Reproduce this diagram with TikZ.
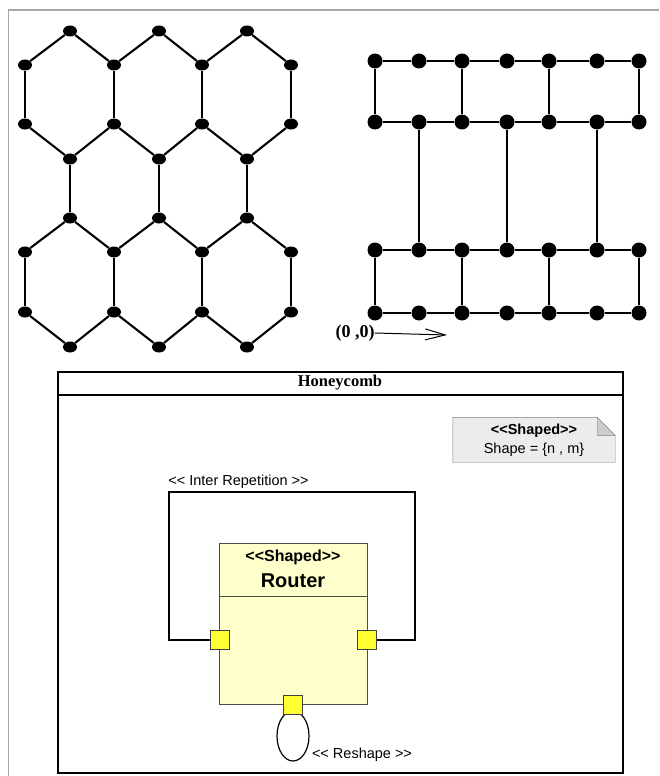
\documentclass[tikz,border=0pt]{standalone}
\usepackage{fontspec}
\newfontfamily\umlfont{Liberation Sans}
\newfontfamily\timesfont{Liberation Serif}
\usetikzlibrary{shapes.geometric, backgrounds, arrows.meta, positioning}
\definecolor{routerfill}{RGB}{255,255,204}
\definecolor{portfill}{RGB}{255,255,51}
\definecolor{notefill}{RGB}{236,236,236}
\definecolor{notedraw}{RGB}{128,128,128}
\tikzset{
  hex node/.style={
    ellipse,
    fill=black,
    inner sep=0pt,
    minimum width=14pt,
    minimum height=11pt,
  },
  brick node/.style={
    circle,
    fill=black,
    inner sep=0pt,
    minimum size=15pt,
  },
  lattice edge/.style={line width=2.1pt},
  port node/.style={
    draw=black!75,
    fill=portfill,
    inner sep=0pt,
    minimum size=19pt,
  },
  uml text/.style={font=\umlfont\fontsize{14.5}{17}\selectfont},
}

\begin{document}
\begin{tikzpicture}[x=1pt, y=-1pt]
      \useasboundingbox (0,0) rectangle (659,776);
      \draw[gray!70, line width=1.5pt] (8.5,776) -- (8.5,10) -- (659,10);

      % honeycomb
      \node[hex node] (t1) at (70,31)  {}; \node[hex node] (t2) at (159,31)  {}; \node[hex node] (t3) at (247,31)  {};
      \node[hex node] (a1) at (25,65)  {}; \node[hex node] (a2) at (114,65)  {}; \node[hex node] (a3) at (202,65)  {}; \node[hex node] (a4) at (291,65)  {};
      \node[hex node] (b1) at (25,124) {}; \node[hex node] (b2) at (114,124) {}; \node[hex node] (b3) at (202,124) {}; \node[hex node] (b4) at (291,124) {};
      \node[hex node] (c1) at (70,159) {}; \node[hex node] (c2) at (159,159) {}; \node[hex node] (c3) at (247,159) {};
      \node[hex node] (d1) at (70,218) {}; \node[hex node] (d2) at (159,218) {}; \node[hex node] (d3) at (247,218) {};
      \node[hex node] (e1) at (25,252) {}; \node[hex node] (e2) at (114,252) {}; \node[hex node] (e3) at (202,252) {}; \node[hex node] (e4) at (291,252) {};
      \node[hex node] (f1) at (25,312) {}; \node[hex node] (f2) at (114,312) {}; \node[hex node] (f3) at (202,312) {}; \node[hex node] (f4) at (291,312) {};
      \node[hex node] (g1) at (70,347) {}; \node[hex node] (g2) at (159,347) {}; \node[hex node] (g3) at (247,347) {};

      \draw[lattice edge] (a1) -- (t1) -- (a2) -- (t2) -- (a3) -- (t3) -- (a4);
      \draw[lattice edge] (a1) -- (b1);  \draw[lattice edge] (a2) -- (b2);
      \draw[lattice edge] (a3) -- (b3);  \draw[lattice edge] (a4) -- (b4);
      \draw[lattice edge] (b1) -- (c1) -- (b2) -- (c2) -- (b3) -- (c3) -- (b4);
      \draw[lattice edge] (c1) -- (d1);  \draw[lattice edge] (c2) -- (d2);  \draw[lattice edge] (c3) -- (d3);
      \draw[lattice edge] (e1) -- (d1) -- (e2) -- (d2) -- (e3) -- (d3) -- (e4);
      \draw[lattice edge] (e1) -- (f1);  \draw[lattice edge] (e2) -- (f2);
      \draw[lattice edge] (e3) -- (f3);  \draw[lattice edge] (e4) -- (f4);
      \draw[lattice edge] (f1) -- (g1) -- (f2) -- (g2) -- (f3) -- (g3) -- (f4);

      % brick grid
      \node[brick node] (p1) at (375,61)  {}; \node[brick node] (p2) at (419,61)  {}; \node[brick node] (p3) at (462,61)  {}; \node[brick node] (p4) at (507,61)  {};
      \node[brick node] (p5) at (549,61)  {}; \node[brick node] (p6) at (597,61)  {}; \node[brick node] (p7) at (639,61)  {};
      \node[brick node] (q1) at (375,122) {}; \node[brick node] (q2) at (419,122) {}; \node[brick node] (q3) at (462,122) {}; \node[brick node] (q4) at (507,122) {};
      \node[brick node] (q5) at (549,122) {}; \node[brick node] (q6) at (597,122) {}; \node[brick node] (q7) at (639,122) {};
      \node[brick node] (r1) at (375,250) {}; \node[brick node] (r2) at (419,250) {}; \node[brick node] (r3) at (462,250) {}; \node[brick node] (r4) at (507,250) {};
      \node[brick node] (r5) at (549,250) {}; \node[brick node] (r6) at (597,250) {}; \node[brick node] (r7) at (639,250) {};
      \node[brick node] (s1) at (375,313) {}; \node[brick node] (s2) at (419,313) {}; \node[brick node] (s3) at (462,313) {}; \node[brick node] (s4) at (507,313) {};
      \node[brick node] (s5) at (549,313) {}; \node[brick node] (s6) at (597,313) {}; \node[brick node] (s7) at (639,313) {};

      \draw[lattice edge] (p1) -- (p2) -- (p3) -- (p4) -- (p5) -- (p6) -- (p7);
      \draw[lattice edge] (q1) -- (q2) -- (q3) -- (q4) -- (q5) -- (q6) -- (q7);
      \draw[lattice edge] (r1) -- (r2) -- (r3) -- (r4) -- (r5) -- (r6) -- (r7);
      \draw[lattice edge] (s1) -- (s2) -- (s3) -- (s4) -- (s5) -- (s6) -- (s7);
      \draw[lattice edge] (p1) -- (q1);  \draw[lattice edge] (p3) -- (q3);
      \draw[lattice edge] (p5) -- (q5);  \draw[lattice edge] (p7) -- (q7);
      \draw[lattice edge] (q2) -- (r2);  \draw[lattice edge] (q4) -- (r4);  \draw[lattice edge] (q6) -- (r6);
      \draw[lattice edge] (r1) -- (s1);  \draw[lattice edge] (r3) -- (s3);
      \draw[lattice edge] (r5) -- (s5);  \draw[lattice edge] (r7) -- (s7);

      \node[font=\timesfont\bfseries\fontsize{18}{21}\selectfont, inner sep=0pt] (orig) at (355,333) {(0 ,0)};
      \coordinate (xaxis) at (447,335);
      \draw[-{Straight Barb[length=20pt, width=11pt]}, line width=1pt] (orig.east) -- (xaxis);

      % honeycomb structure
      \node[draw, line width=1.5pt, minimum width=565pt, minimum height=401pt] (hc) at (340.5,572.5) {};
      \node[font=\timesfont\bfseries\fontsize{16.5}{19}\selectfont] (hctitle) at (340,383) {Honeycomb};
      \coordinate (sep) at (340,395);
      \draw[line width=1.5pt] (hc.west |- sep) -- (hc.east |- sep);

      \node[uml text, align=center, minimum width=162pt, minimum height=45pt, inner sep=0pt] (note) at (534,440)
        {\textbf{<<Shaped>>}\\[2pt]Shape = \{n , m\}};
      \begin{scope}[on background layer]
        \draw[notedraw, fill=notefill] (note.north west) -- ([xshift=-18pt]note.north east)
          -- ([yshift=-18pt]note.north east) -- (note.south east) -- (note.south west) -- cycle;
        \draw[notedraw, fill=black!20] ([xshift=-18pt]note.north east) -- ([xshift=-18pt, yshift=-18pt]note.north east)
          -- ([yshift=-18pt]note.north east) -- cycle;
      \end{scope}

      \node[draw=black!70, fill=routerfill, minimum width=148pt, minimum height=161pt] (router) at (293,623.5) {};
      \coordinate (hdr) at (293,596);
      \draw[black!70] (router.west |- hdr) -- (router.east |- hdr);
      \node[font=\umlfont\bfseries\fontsize{16}{19}\selectfont] (stereo) at (293,557) {<<Shaped>>};
      \node[font=\umlfont\bfseries\fontsize{20}{24}\selectfont] (rname) at (293,581) {Router};

      \node[ellipse, draw, line width=1.2pt, minimum width=32pt, minimum height=50pt] (loop) at (293,736) {};
      \node[uml text] (reshape) at (362,755) {<< Reshape >>};

      \coordinate (wl) at (169,492);
      \coordinate (wr) at (415,492);
      \node[port node] (pl) at (220,640) {};
      \node[port node] (pr) at (367,640) {};
      \node[port node] (pb) at (292.5,705) {};
      \draw[line width=1.5pt] (pl) -- (pl -| wl) -- (wl) -- (wr) -- (wr |- pr) -- (pr);
      \node[port node] at (pl) {};
      \node[port node] at (pr) {};
      \node[uml text] (interrep) at (238.5,482) {<< Inter Repetition >>};
\end{tikzpicture}
\end{document}
